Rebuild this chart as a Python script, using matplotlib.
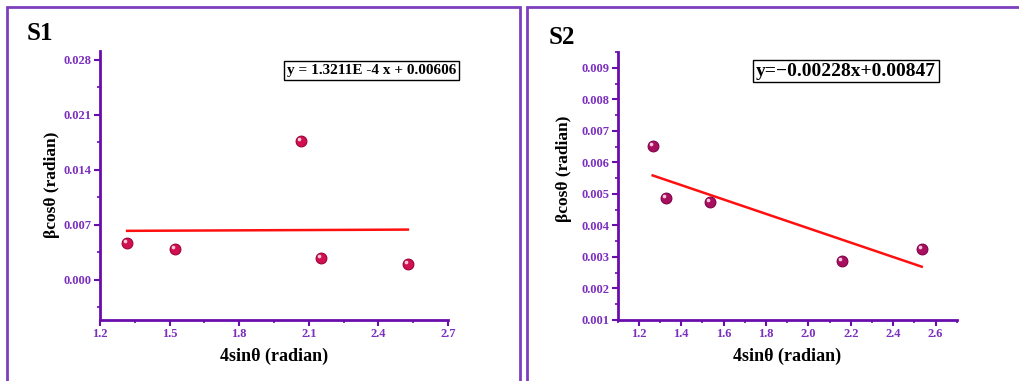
import numpy as np
import matplotlib.pyplot as plt
from matplotlib.patches import Rectangle
from matplotlib.ticker import MultipleLocator, AutoMinorLocator
from matplotlib.transforms import ScaledTranslation

plt.rcParams['font.family'] = ['Liberation Serif', 'DejaVu Serif']

# S1 data
s1_x = [1.317, 1.524, 2.065, 2.151, 2.527]
s1_y = [0.00475, 0.0039, 0.0176, 0.00284, 0.00207]
s1_slope, s1_intercept = 1.3211e-4, 0.00606
s1_eq = 'y = 1.3211E -4 x + 0.00606'
s1_xticks = [1.2, 1.5, 1.8, 2.1, 2.4, 2.7]

# S2 data
s2_x = [1.265, 1.327, 1.534, 2.158, 2.535]
s2_y = [0.00651, 0.00486, 0.00475, 0.00288, 0.00324]
s2_slope, s2_intercept = -0.00228, 0.00847
s2_eq = 'y=\u22120.00228x+0.00847'
s2_xticks = [1.2, 1.4, 1.6, 1.8, 2.0, 2.2, 2.4, 2.6]

x_label = '4sin\u03b8 (radian)'
y_label = '\u03b2cos\u03b8 (radian)'

W, H = 1019, 381
fig = plt.figure(figsize=(W / 100, H / 100), dpi=100)

border = '#7E3FBF'
spine = '#6A0DAD'
tick_col = '#7B2FBE'

# panel frames
for x0, x1 in [(7, 520), (527, 1040)]:
    fig.add_artist(Rectangle((x0 / W, -0.1), (x1 - x0) / W, 1.1 - 7 / H,
                             transform=fig.transFigure, fill=False,
                             edgecolor=border, lw=2))


def setup(ax, xlim, ylim, xticks, ymaj):
    ax.set_xlim(*xlim)
    ax.set_ylim(*ylim)
    ax.set_xticks(xticks)
    ax.set_xticklabels(['%.1f' % v for v in xticks])
    ax.yaxis.set_major_locator(MultipleLocator(ymaj))
    ax.xaxis.set_minor_locator(AutoMinorLocator(2))
    ax.yaxis.set_minor_locator(AutoMinorLocator(2))
    ax.yaxis.set_major_formatter('{x:.3f}')
    for s in ['top', 'right']:
        ax.spines[s].set_visible(False)
    for s in ['left', 'bottom']:
        ax.spines[s].set_color(spine)
        ax.spines[s].set_linewidth(2)
    ax.tick_params(which='major', direction='out', length=4, width=1.5,
                   color=spine, labelcolor=tick_col, labelsize=9, pad=2)
    ax.tick_params(which='minor', direction='out', length=2.5, width=1.2,
                   color=spine)
    for lbl in ax.get_xticklabels() + ax.get_yticklabels():
        lbl.set_fontweight('bold')
    ax.set_xlabel(x_label, fontsize=13, fontweight='bold', labelpad=5)
    ax.set_ylabel(y_label, fontsize=12.5, fontweight='bold')


def balls(ax, xs, ys, face, edge):
    ax.scatter(xs, ys, s=60, color=face, edgecolor=edge, linewidth=0.8,
               zorder=3)
    # small highlight for the shaded-sphere look
    shift = ScaledTranslation(-2 / 100, 2 / 100, fig.dpi_scale_trans)
    ax.scatter(xs, ys, s=7, color='#F8C8DC', linewidth=0, zorder=4,
               transform=ax.transData + shift)


# S1 panel
ax1 = fig.add_axes([100 / W, 1 - 320 / H, 348 / W, 269 / H])
balls(ax1, s1_x, s1_y, '#D0104F', '#A0003A')
fx = np.array([s1_x[0], s1_x[-1]])
ax1.plot(fx, s1_slope * fx + s1_intercept, color='#FF1010', lw=1.8)
setup(ax1, (1.2, 2.7), (-0.0051, 0.0291), s1_xticks, 0.007)
ax1.yaxis.set_label_coords(-0.115, 0.502)
ax1.text(0.780, 0.926, s1_eq, transform=ax1.transAxes, ha='center',
         va='center', fontsize=11, fontweight='bold',
         bbox=dict(boxstyle='square,pad=0.2', fc='white', ec='black', lw=1))

# S2 panel
ax2 = fig.add_axes([617.7 / W, 1 - 320 / H, 339 / W, 268 / H])
balls(ax2, s2_x, s2_y, '#A8105F', '#800048')
fx = np.array([s2_x[0], s2_x[-1]])
ax2.plot(fx, s2_slope * fx + s2_intercept, color='#FF1010', lw=1.8)
setup(ax2, (1.1, 2.7), (0.001, 0.0095), s2_xticks, 0.001)
ax2.yaxis.set_label_coords(-0.135, 0.563)
ax2.text(0.673, 0.929, s2_eq, transform=ax2.transAxes, ha='center',
         va='center', fontsize=14, fontweight='bold',
         bbox=dict(boxstyle='square,pad=0.15', fc='white', ec='black', lw=1))

fig.text(27 / W, 1 - 33 / H, 'S1', fontsize=18, fontweight='bold', va='center')
fig.text(549 / W, 1 - 37 / H, 'S2', fontsize=18, fontweight='bold', va='center')

fig.savefig('out.png', dpi=100)
